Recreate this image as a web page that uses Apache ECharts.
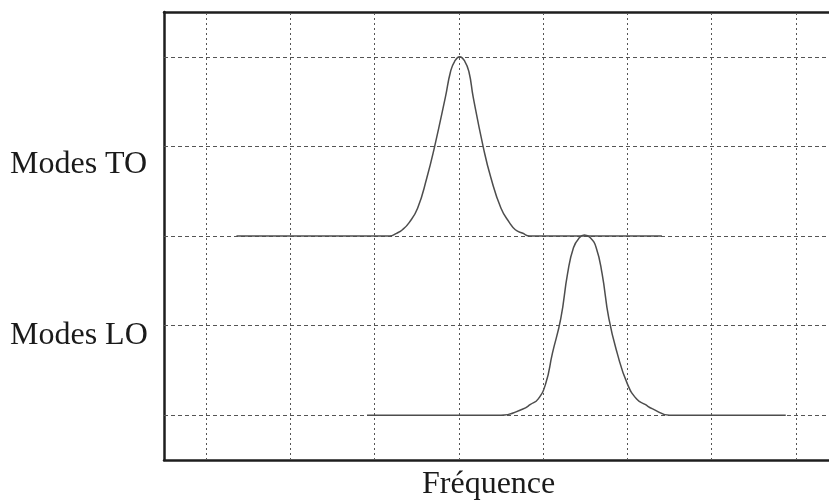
<!DOCTYPE html>
<html>
<head>
<meta charset="utf-8">
<script src="https://cdn.jsdelivr.net/npm/echarts@6/dist/echarts.min.js"></script>
<style>
html,body{margin:0;padding:0;background:#fff;overflow:hidden;}
#chart{width:829px;height:502px;}
</style>
</head>
<body>
<div id="chart"></div>
<script>
// Grid units: vertical grid lines at x = 0..7, horizontal grid lines at y = 0..4
const labelTO = "Modes TO";
const labelLO = "Modes LO";
const xLabel = "Fréquence";

const gridLinesX = [0, 1, 2, 3, 4, 5, 6, 7];
const gridLinesY = [0, 1, 2, 3, 4];

const toX = [0.36, 2.0, 2.18, 2.26, 2.33, 2.41, 2.51, 2.62, 2.71, 2.84, 2.90, 2.95, 3.01, 3.07, 3.12, 3.17, 3.29, 3.38, 3.50, 3.60, 3.67, 3.76, 3.84, 4.2, 5.41];
const toY = [2.0, 2.0, 2.0, 2.03, 2.07, 2.15, 2.31, 2.65, 2.99, 3.55, 3.83, 3.95, 4.0, 3.95, 3.83, 3.55, 2.99, 2.65, 2.31, 2.15, 2.07, 2.03, 2.0, 2.0, 2.0];

const loX = [1.91, 3.5, 3.76, 3.85, 3.94, 4.03, 4.11, 4.21, 4.29, 4.36, 4.43, 4.49, 4.56, 4.63, 4.70, 4.78, 4.88, 5.0, 5.11, 5.21, 5.30, 5.5, 6.88];
const loY = [0.0, 0.0, 0.07, 0.12, 0.18, 0.35, 0.69, 1.08, 1.58, 1.87, 1.98, 2.01, 1.98, 1.87, 1.58, 1.08, 0.69, 0.35, 0.18, 0.12, 0.07, 0.0, 0.0];

const chart = echarts.init(document.getElementById('chart'), null, {renderer: 'canvas'});
const pairs = (xs, ys) => xs.map((x, i) => [x, ys[i]]);

const curveStyle = {color: '#4d4d4d', width: 1.5};
const frameLine = {show: true, onZero: false, lineStyle: {color: '#1e1e1e', width: 2.5}};
const hidden = {axisTick: {show: false}, axisLabel: {show: false}, splitLine: {show: false}};

chart.setOption({
  backgroundColor: '#ffffff',
  animation: false,
  grid: {left: 164, top: 12, width: 674, height: 448, outerBoundsMode: 'none', containLabel: false, show: false},
  xAxis: [
    Object.assign({type: 'value', min: -0.5, max: 7.5, position: 'bottom', axisLine: frameLine}, hidden),
    Object.assign({type: 'value', min: -0.5, max: 7.5, position: 'top', axisLine: frameLine}, hidden)
  ],
  yAxis: [
    Object.assign({type: 'value', min: -0.5, max: 4.5, position: 'left', axisLine: frameLine}, hidden)
  ],
  series: [
    {type: 'line', data: [], silent: true,
      markLine: {silent: true, symbol: ['none', 'none'], label: {show: false},
        lineStyle: {color: '#555', width: 1, type: [2, 3]},
        data: gridLinesX.map(v => ({xAxis: v}))}},
    {type: 'line', data: [], silent: true,
      markLine: {silent: true, symbol: ['none', 'none'], label: {show: false},
        lineStyle: {color: '#555', width: 1, type: [4, 3]},
        data: gridLinesY.map(v => ({yAxis: v}))}},
    {type: 'line', data: pairs(toX, toY), showSymbol: false,
      smooth: 0.5, clip: false, lineStyle: curveStyle, z: 5},
    {type: 'line', data: pairs(loX, loY), showSymbol: false,
      smooth: 0.5, clip: false, lineStyle: curveStyle, z: 5}
  ],
  graphic: [
    {type: 'text', left: 10, top: 149, style: {text: labelTO, font: '32px "Liberation Serif", "Times New Roman", serif', fill: '#1a1a1a'}},
    {type: 'text', left: 10, top: 320, style: {text: labelLO, font: '32px "Liberation Serif", "Times New Roman", serif', fill: '#1a1a1a'}},
    {type: 'text', left: 422, top: 469, style: {text: xLabel, font: '32px "Liberation Serif", "Times New Roman", serif', fill: '#1a1a1a'}}
  ]
});
</script>
</body>
</html>
